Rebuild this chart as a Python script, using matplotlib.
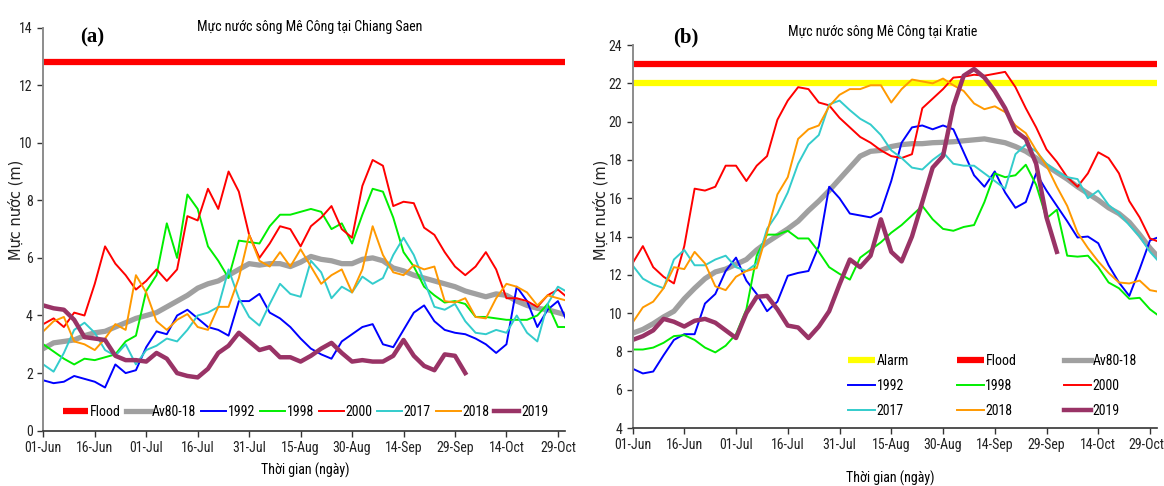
import numpy as np
import matplotlib.pyplot as plt
from matplotlib import font_manager
from matplotlib.transforms import ScaledTranslation

# pick a condensed sans face if one is installed
names = {f.name for f in font_manager.fontManager.ttflist}
narrow = next((n for n in ['Liberation Sans Narrow', 'Roboto Condensed', 'Open Sans Condensed',
                           'Arial Narrow', 'DejaVu Sans Condensed'] if n in names), None)
if narrow:
    plt.rcParams['font.family'] = [narrow, 'Liberation Sans', 'DejaVu Sans']
    FS = 10
else:
    plt.rcParams['font.family'] = ['Liberation Sans', 'DejaVu Sans']
    FS = 8.5

# days counted from 01-Jun, sampled every 3 days
days = np.arange(0, 154, 3)
tick_days = np.arange(0, 151, 15)
tick_labels = ['01-Jun', '16-Jun', '01-Jul', '16-Jul', '31-Jul', '15-Aug',
               '30-Aug', '14-Sep', '29-Sep', '14-Oct', '29-Oct']
nan = np.nan

# ---- (a) Chiang Saen ----
a_flood = 12.8
a_av = [2.85, 3.05, 3.1, 3.15, 3.3, 3.4, 3.45, 3.6, 3.75, 3.9,
        4.0, 4.1, 4.3, 4.5, 4.7, 4.95, 5.1, 5.2, 5.4, 5.6,
        5.8, 5.75, 5.8, 5.8, 5.7, 5.85, 6.05, 5.95, 5.9, 5.8,
        5.8, 5.95, 6.0, 5.9, 5.65, 5.55, 5.4, 5.3, 5.2, 5.1,
        5.0, 4.85, 4.75, 4.65, 4.75, 4.7, 4.5, 4.35, 4.25, 4.2,
        4.1, 4.0]
a_1992 = [1.75, 1.65, 1.7, 1.9, 1.8, 1.7, 1.5, 2.3, 2.0, 2.1,
          2.9, 3.45, 3.35, 4.0, 4.2, 3.9, 3.6, 3.5, 3.3, 4.5,
          4.5, 4.75, 4.1, 3.9, 3.6, 3.2, 2.85, 2.65, 2.5, 3.1,
          3.35, 3.6, 3.7, 3.0, 2.9, 3.5, 4.1, 4.35, 3.8, 3.5,
          3.4, 3.35, 3.2, 3.0, 2.7, 3.0, 5.0, 4.5, 3.6, 4.2,
          4.5, 3.7]
a_1998 = [3.0, 2.75, 2.5, 2.3, 2.5, 2.45, 2.55, 2.65, 3.1, 3.3,
          4.85, 5.4, 7.2, 6.0, 8.2, 7.7, 6.4, 5.9, 5.3, 6.6,
          6.55, 6.5, 7.1, 7.5, 7.5, 7.6, 7.7, 7.6, 7.0, 7.2,
          6.5, 7.5, 8.4, 8.3, 7.4, 6.2, 5.7, 5.0, 4.7, 4.45,
          4.5, 4.4, 3.95, 3.95, 3.9, 3.85, 3.85, 3.85, 4.0, 4.4,
          3.6, 3.6]
a_2000 = [3.7, 3.9, 3.6, 4.1, 4.0, 5.1, 6.4, 5.8, 5.4, 4.9,
          5.2, 5.6, 5.2, 5.6, 7.45, 7.3, 8.4, 7.7, 9.0, 8.3,
          6.8, 6.0, 6.5, 7.1, 7.0, 6.4, 7.1, 7.4, 7.8, 7.0,
          6.7, 8.5, 9.4, 9.2, 7.8, 7.95, 7.9, 7.05, 6.8, 6.2,
          5.7, 5.4, 5.7, 6.2, 5.6, 4.6, 4.6, 4.5, 4.3, 4.7,
          4.9, 4.6]
a_2017 = [2.3, 2.05, 2.7, 3.5, 3.75, 3.4, 2.8, 2.6, 3.0, 2.3,
          2.8, 2.95, 3.2, 3.1, 3.5, 4.0, 4.1, 4.3, 5.6, 4.6,
          3.95, 3.65, 4.4, 5.1, 4.75, 4.65, 5.9, 5.5, 4.6, 5.0,
          4.8, 5.35, 5.1, 5.3, 6.1, 6.7, 6.1, 5.2, 4.3, 4.2,
          4.4, 3.8, 3.4, 3.35, 3.5, 3.4, 4.0, 3.4, 3.1, 4.4,
          5.0, 4.8]
a_2018 = [3.45, 3.8, 3.95, 3.1, 3.0, 2.8, 3.2, 3.7, 3.5, 5.4,
          4.8, 3.8, 3.5, 3.85, 4.05, 3.6, 3.5, 4.3, 4.3, 5.3,
          6.8, 5.9, 5.7, 6.2, 5.7, 6.3, 5.7, 5.1, 5.4, 5.6,
          4.8, 5.6, 7.1, 6.1, 5.5, 5.4, 5.75, 5.6, 5.7, 4.5,
          4.45, 4.6, 3.95, 3.9, 4.6, 5.1, 5.0, 4.8, 4.35, 4.7,
          4.6, 4.5]
a_2019 = [4.35, 4.25, 4.2, 3.85, 3.25, 3.2, 3.15, 2.6, 2.45, 2.45,
          2.4, 2.7, 2.5, 2.0, 1.9, 1.85, 2.15, 2.7, 2.95, 3.4,
          3.1, 2.8, 2.9, 2.55, 2.55, 2.4, 2.6, 2.85, 3.05, 2.7,
          2.4, 2.45, 2.4, 2.4, 2.6, 3.15, 2.6, 2.25, 2.1, 2.65,
          2.6, 2.0, nan, nan, nan, nan, nan, nan, nan, nan,
          nan, nan]

# ---- (b) Kratie ----
b_alarm = 22.0
b_flood = 23.0
b_av = [8.95, 9.15, 9.45, 9.8, 10.1, 10.75, 11.3, 11.8, 12.15, 12.3,
        12.55, 12.8, 13.3, 13.7, 14.05, 14.4, 14.8, 15.35, 15.85, 16.4,
        17.0, 17.6, 18.2, 18.45, 18.5, 18.7, 18.8, 18.85, 18.85, 18.9,
        18.92, 18.95, 19.0, 19.05, 19.1, 19.0, 18.9, 18.7, 18.45, 18.1,
        17.7, 17.35, 17.0, 16.6, 16.25, 15.9, 15.5, 15.2, 14.75, 14.1,
        13.4, 12.8]
b_1992 = [7.1, 6.85, 6.95, 7.8, 8.6, 8.9, 8.9, 10.5, 11.0, 12.2,
          12.9, 11.7, 11.0, 10.1, 10.6, 11.95, 12.1, 12.2, 13.5, 16.6,
          16.0, 15.2, 15.1, 15.0, 15.3, 16.9, 18.9, 19.7, 19.8, 19.6,
          19.8, 19.6, 18.4, 17.2, 16.6, 17.4, 16.3, 15.5, 15.8, 17.3,
          16.4, 15.6, 14.8, 13.95, 14.0, 13.65, 12.5, 11.6, 10.9, 12.3,
          13.8, 14.0]
b_1998 = [8.1, 8.1, 8.2, 8.45, 8.8, 8.85, 8.6, 8.2, 7.95, 8.3,
          8.9, 10.2, 13.0, 14.1, 14.1, 14.3, 13.9, 13.9, 13.2, 12.4,
          12.05, 11.75, 12.9, 13.3, 13.7, 14.2, 14.6, 15.1, 15.6, 14.9,
          14.4, 14.3, 14.5, 14.6, 15.8, 17.3, 17.1, 17.2, 17.75, 16.7,
          14.95, 15.4, 13.0, 12.95, 13.0, 12.4, 11.6, 11.3, 10.75, 10.8,
          10.2, 9.8]
b_2000 = [12.6, 13.5, 12.4, 11.9, 11.55, 13.5, 16.5, 16.4, 16.6, 17.7,
          17.7, 16.9, 17.7, 18.2, 20.1, 21.1, 21.8, 21.7, 21.0, 20.85,
          20.2, 19.7, 19.2, 18.9, 18.5, 18.2, 18.1, 18.3, 20.7, 21.2,
          21.7, 22.3, 22.35, 22.45, 22.4, 22.5, 22.6, 21.8, 20.7, 19.7,
          18.55, 17.9, 17.1, 16.6, 17.3, 18.4, 18.1, 17.3, 15.85, 15.0,
          13.9, 13.7]
b_2017 = [12.5, 11.8, 11.5, 11.3, 12.8, 13.3, 12.5, 12.5, 12.8, 13.0,
          12.4, 12.2, 12.6, 14.4, 15.2, 16.3, 17.8, 18.8, 19.3, 20.9,
          21.1, 20.6, 20.15, 19.85, 19.3, 18.5, 18.1, 17.6, 17.5, 18.0,
          18.4, 17.8, 17.7, 17.7, 17.3, 16.9, 16.5, 18.3, 18.8, 18.45,
          17.8, 17.4, 17.1, 17.0, 16.0, 16.4, 15.65, 15.2, 14.6, 14.0,
          13.2, 12.6]
b_2018 = [9.5, 10.3, 10.6, 11.3, 12.4, 12.3, 13.2, 12.6, 11.4, 11.2,
          11.9, 12.2, 12.35, 14.2, 16.2, 17.1, 19.1, 19.6, 19.8, 20.8,
          21.4, 21.7, 21.7, 21.9, 21.9, 21.0, 21.7, 22.2, 22.1, 22.0,
          22.25, 21.9, 21.6, 20.95, 20.65, 20.8, 20.5, 19.8, 19.4, 18.5,
          17.7, 16.6, 15.6, 14.2, 13.4, 12.7, 12.1, 11.6, 11.55, 11.7,
          11.2, 11.1]
b_2019 = [8.6, 8.8, 9.1, 9.7, 9.55, 9.3, 9.6, 9.7, 9.5, 9.1,
          8.7, 10.0, 10.85, 10.9, 10.2, 9.35, 9.25, 8.7, 9.3, 10.1,
          11.5, 12.8, 12.4, 13.0, 14.9, 13.2, 12.7, 14.0, 15.8, 17.6,
          18.2, 20.8, 22.4, 22.75, 22.3, 21.6, 20.7, 19.5, 19.1, 17.8,
          15.0, 13.2, nan, nan, nan, nan, nan, nan, nan, nan,
          nan, nan]

C_FLOOD = '#ff0000'
C_ALARM = '#ffff00'
C_AV = '#a0a0a0'
C_1992 = '#0000ff'
C_1998 = '#00ee00'
C_2000 = '#ff0000'
C_2017 = '#33cccc'
C_2018 = '#ff9900'
C_2019 = '#993366'

fig = plt.figure(figsize=(11.64, 4.86), dpi=100)
ax_a = fig.add_axes([0.0372, 0.1138, 0.448, 0.8296])
ax_b = fig.add_axes([0.5434, 0.1193, 0.4505, 0.788])


def style_axis(ax, yticks):
    ax.set_xlim(0, 152)
    ax.set_ylim(yticks[0], yticks[-1])
    ax.set_xticks(tick_days)
    ax.set_xticklabels(tick_labels)
    ax.set_yticks(yticks)
    for s in ['top', 'right']:
        ax.spines[s].set_visible(False)
    ax.spines['left'].set_color('#8c8c8c')
    ax.spines['left'].set_linewidth(1.4)
    ax.spines['bottom'].set_color('#333333')
    ax.spines['bottom'].set_linewidth(1.2)
    ax.tick_params(axis='both', direction='out', length=4, width=1,
                   labelsize=FS, colors='#333333', labelcolor='#222222')


thin = 1.4
px = FS * 100 / 72  # font size in pixels

ln = {}
ax = ax_a
ln['Flood'], = ax.plot([0, 153], [a_flood, a_flood], color=C_FLOOD, lw=4.5, solid_capstyle='butt')
ln['Av80-18'], = ax.plot(days, a_av, color=C_AV, lw=3.8)
ln['1992'], = ax.plot(days, a_1992, color=C_1992, lw=thin)
ln['1998'], = ax.plot(days, a_1998, color=C_1998, lw=thin)
ln['2000'], = ax.plot(days, a_2000, color=C_2000, lw=thin)
ln['2017'], = ax.plot(days, a_2017, color=C_2017, lw=thin)
ln['2018'], = ax.plot(days, a_2018, color=C_2018, lw=thin)
ln['2019'], = ax.plot(days, a_2019, color=C_2019, lw=3.2)
style_axis(ax, np.arange(0, 15, 2))
order_a = ['Flood', 'Av80-18', '1992', '1998', '2000', '2017', '2018', '2019']
ax.legend([ln[k] for k in order_a], order_a, loc='center', bbox_to_anchor=(0.503, 0.046),
          ncol=8, frameon=False, fontsize=FS, handlelength=25 / px, handletextpad=1.5 / px,
          columnspacing=5 / px, borderpad=0)

lb = {}
ax = ax_b
lb['Flood'], = ax.plot([0, 153], [b_flood, b_flood], color=C_FLOOD, lw=4.5, solid_capstyle='butt')
lb['Alarm'], = ax.plot([0, 153], [b_alarm, b_alarm], color=C_ALARM, lw=4.5, solid_capstyle='butt')
lb['Av80-18'], = ax.plot(days, b_av, color=C_AV, lw=3.8)
lb['1992'], = ax.plot(days, b_1992, color=C_1992, lw=thin)
lb['1998'], = ax.plot(days, b_1998, color=C_1998, lw=thin)
lb['2000'], = ax.plot(days, b_2000, color=C_2000, lw=thin)
lb['2017'], = ax.plot(days, b_2017, color=C_2017, lw=thin)
lb['2018'], = ax.plot(days, b_2018, color=C_2018, lw=thin)
lb['2019'], = ax.plot(days, b_2019, color=C_2019, lw=3.2)
style_axis(ax, np.arange(4, 25, 2))
order_b = ['Alarm', '1992', '2017', 'Flood', '1998', '2018', 'Av80-18', '2000', '2019']
ax.legend([lb[k] for k in order_b], order_b, loc='upper left',
          bbox_to_anchor=((848 - 632.5) / 524.4, (428 - 354) / 383.0),
          ncol=3, frameon=False, fontsize=FS, handlelength=27 / px, handletextpad=1.5 / px,
          columnspacing=48 / px, labelspacing=11 / px, borderpad=0, borderaxespad=0)

# keep the last date label of (b) inside the picture
last = ax_b.get_xticklabels()[-1]
last.set_transform(last.get_transform() + ScaledTranslation(-4 / 100, 0, fig.dpi_scale_trans))

# titles and labels
fig.text(310 / 1164, 1 - 27 / 486, 'Mực nước sông Mê Công tại Chiang Saen',
         ha='center', va='center', fontsize=FS)
fig.text(883 / 1164, 1 - 32 / 486, 'Mực nước sông Mê Công tại Kratie',
         ha='center', va='center', fontsize=FS)
fig.text(92 / 1164, 1 - 37 / 486, '(a)', ha='center', va='center', fontsize=15,
         fontweight='bold', family=['Liberation Serif', 'DejaVu Serif'])
fig.text(686 / 1164, 1 - 37 / 486, '(b)', ha='center', va='center', fontsize=15,
         fontweight='bold', family=['Liberation Serif', 'DejaVu Serif'])
fig.text(305 / 1164, 1 - 470 / 486, 'Thời gian (ngày)', ha='center', va='center', fontsize=FS)
fig.text(890 / 1164, 1 - 478 / 486, 'Thời gian (ngày)', ha='center', va='center', fontsize=FS)
fig.text(16 / 1164, 1 - 210 / 486, 'Mực nước (m)', ha='center', va='center', rotation=90,
         fontsize=10.5, family=['DejaVu Sans'], color='#222222')
fig.text(601 / 1164, 1 - 210 / 486, 'Mực nước (m)', ha='center', va='center', rotation=90,
         fontsize=10.5, family=['DejaVu Sans'], color='#222222')

fig.savefig('out.png', dpi=100)
